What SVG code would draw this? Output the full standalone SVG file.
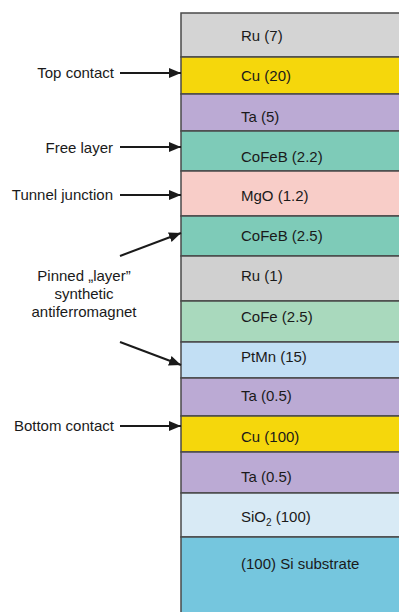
<svg xmlns="http://www.w3.org/2000/svg" width="399" height="612" viewBox="0 0 399 612">
<defs>
<style>
text{font-family:"Liberation Sans",Arial,sans-serif;font-size:15px;fill:#1a1a1a}
.ly{stroke:#4a4a4a;stroke-width:1.5}
.lab{text-anchor:end}
.ctr{text-anchor:middle}
.conn{stroke:#1a1a1a;stroke-width:2;fill:none;marker-end:url(#ah)}
</style>
<marker id="ah" viewBox="0 0 12 10" refX="12" refY="5" markerWidth="12" markerHeight="10" markerUnits="userSpaceOnUse" orient="auto">
<path d="M0,0 L12,5 L0,10 z" fill="#1a1a1a"/>
</marker>
</defs>
<rect width="399" height="612" fill="#ffffff"/>
<g id="layers">
<g id="ru7"><rect class="ly" x="181" y="13" width="230" height="44" fill="#d4d4d4"/><text x="241" y="40.5">Ru (7)</text></g>
<g id="cu20"><rect class="ly" x="181" y="57" width="230" height="37" fill="#f5d70c"/><text x="241" y="81">Cu (20)</text></g>
<g id="ta5"><rect class="ly" x="181" y="94" width="230" height="37" fill="#bbaad4"/><text x="241" y="121.5">Ta (5)</text></g>
<g id="cofeb22"><rect class="ly" x="181" y="131" width="230" height="40" fill="#7ecbb8"/><text x="241" y="161.5">CoFeB (2.2)</text></g>
<g id="mgo"><rect class="ly" x="181" y="171" width="230" height="45" fill="#f8cdc8"/><text x="241" y="201">MgO (1.2)</text></g>
<g id="cofeb25"><rect class="ly" x="181" y="216" width="230" height="40" fill="#7ecbb8"/><text x="241" y="241">CoFeB (2.5)</text></g>
<g id="ru1"><rect class="ly" x="181" y="256" width="230" height="45" fill="#d0d0d0"/><text x="241" y="281">Ru (1)</text></g>
<g id="cofe"><rect class="ly" x="181" y="301" width="230" height="41" fill="#a9d9bd"/><text x="241" y="321.5">CoFe (2.5)</text></g>
<g id="ptmn"><rect class="ly" x="181" y="342" width="230" height="36" fill="#c2dff4"/><text x="241" y="361.5">PtMn (15)</text></g>
<g id="ta05a"><rect class="ly" x="181" y="378" width="230" height="38" fill="#bbaad4"/><text x="241" y="401">Ta (0.5)</text></g>
<g id="cu100"><rect class="ly" x="181" y="416" width="230" height="36" fill="#f5d70c"/><text x="241" y="441.5">Cu (100)</text></g>
<g id="ta05b"><rect class="ly" x="181" y="452" width="230" height="41" fill="#bbaad4"/><text x="241" y="481.5">Ta (0.5)</text></g>
<g id="sio2"><rect class="ly" x="181" y="493" width="230" height="44" fill="#d8eaf5"/><text x="241" y="521.5">SiO<tspan font-size="10" dy="4">2</tspan><tspan dy="-4"> (100)</tspan></text></g>
<g id="si"><rect class="ly" x="181" y="537" width="230" height="80" fill="#75c6de"/><text x="241" y="569">(100) Si substrate</text></g>
</g>
<g id="labels">
<g id="top-contact"><text class="lab" x="114" y="78">Top contact</text></g>
<g id="free-layer"><text class="lab" x="113" y="153">Free layer</text></g>
<g id="tunnel-junction"><text class="lab" x="113" y="200">Tunnel junction</text></g>
<g id="pinned"><text class="ctr" x="84" y="281">Pinned „layer”</text><text class="ctr" x="84" y="299">synthetic</text><text class="ctr" x="84" y="317">antiferromagnet</text></g>
<g id="bottom-contact"><text class="lab" x="114" y="431">Bottom contact</text></g>
</g>
<g id="connectors">
<line class="conn" x1="120" y1="73" x2="181" y2="73"/>
<line class="conn" x1="120" y1="147" x2="181" y2="147"/>
<line class="conn" x1="120" y1="195" x2="181" y2="195"/>
<line class="conn" x1="120" y1="256" x2="181" y2="233"/>
<line class="conn" x1="120" y1="342" x2="181" y2="365"/>
<line class="conn" x1="120" y1="426" x2="181" y2="426"/>
</g>
</svg>
